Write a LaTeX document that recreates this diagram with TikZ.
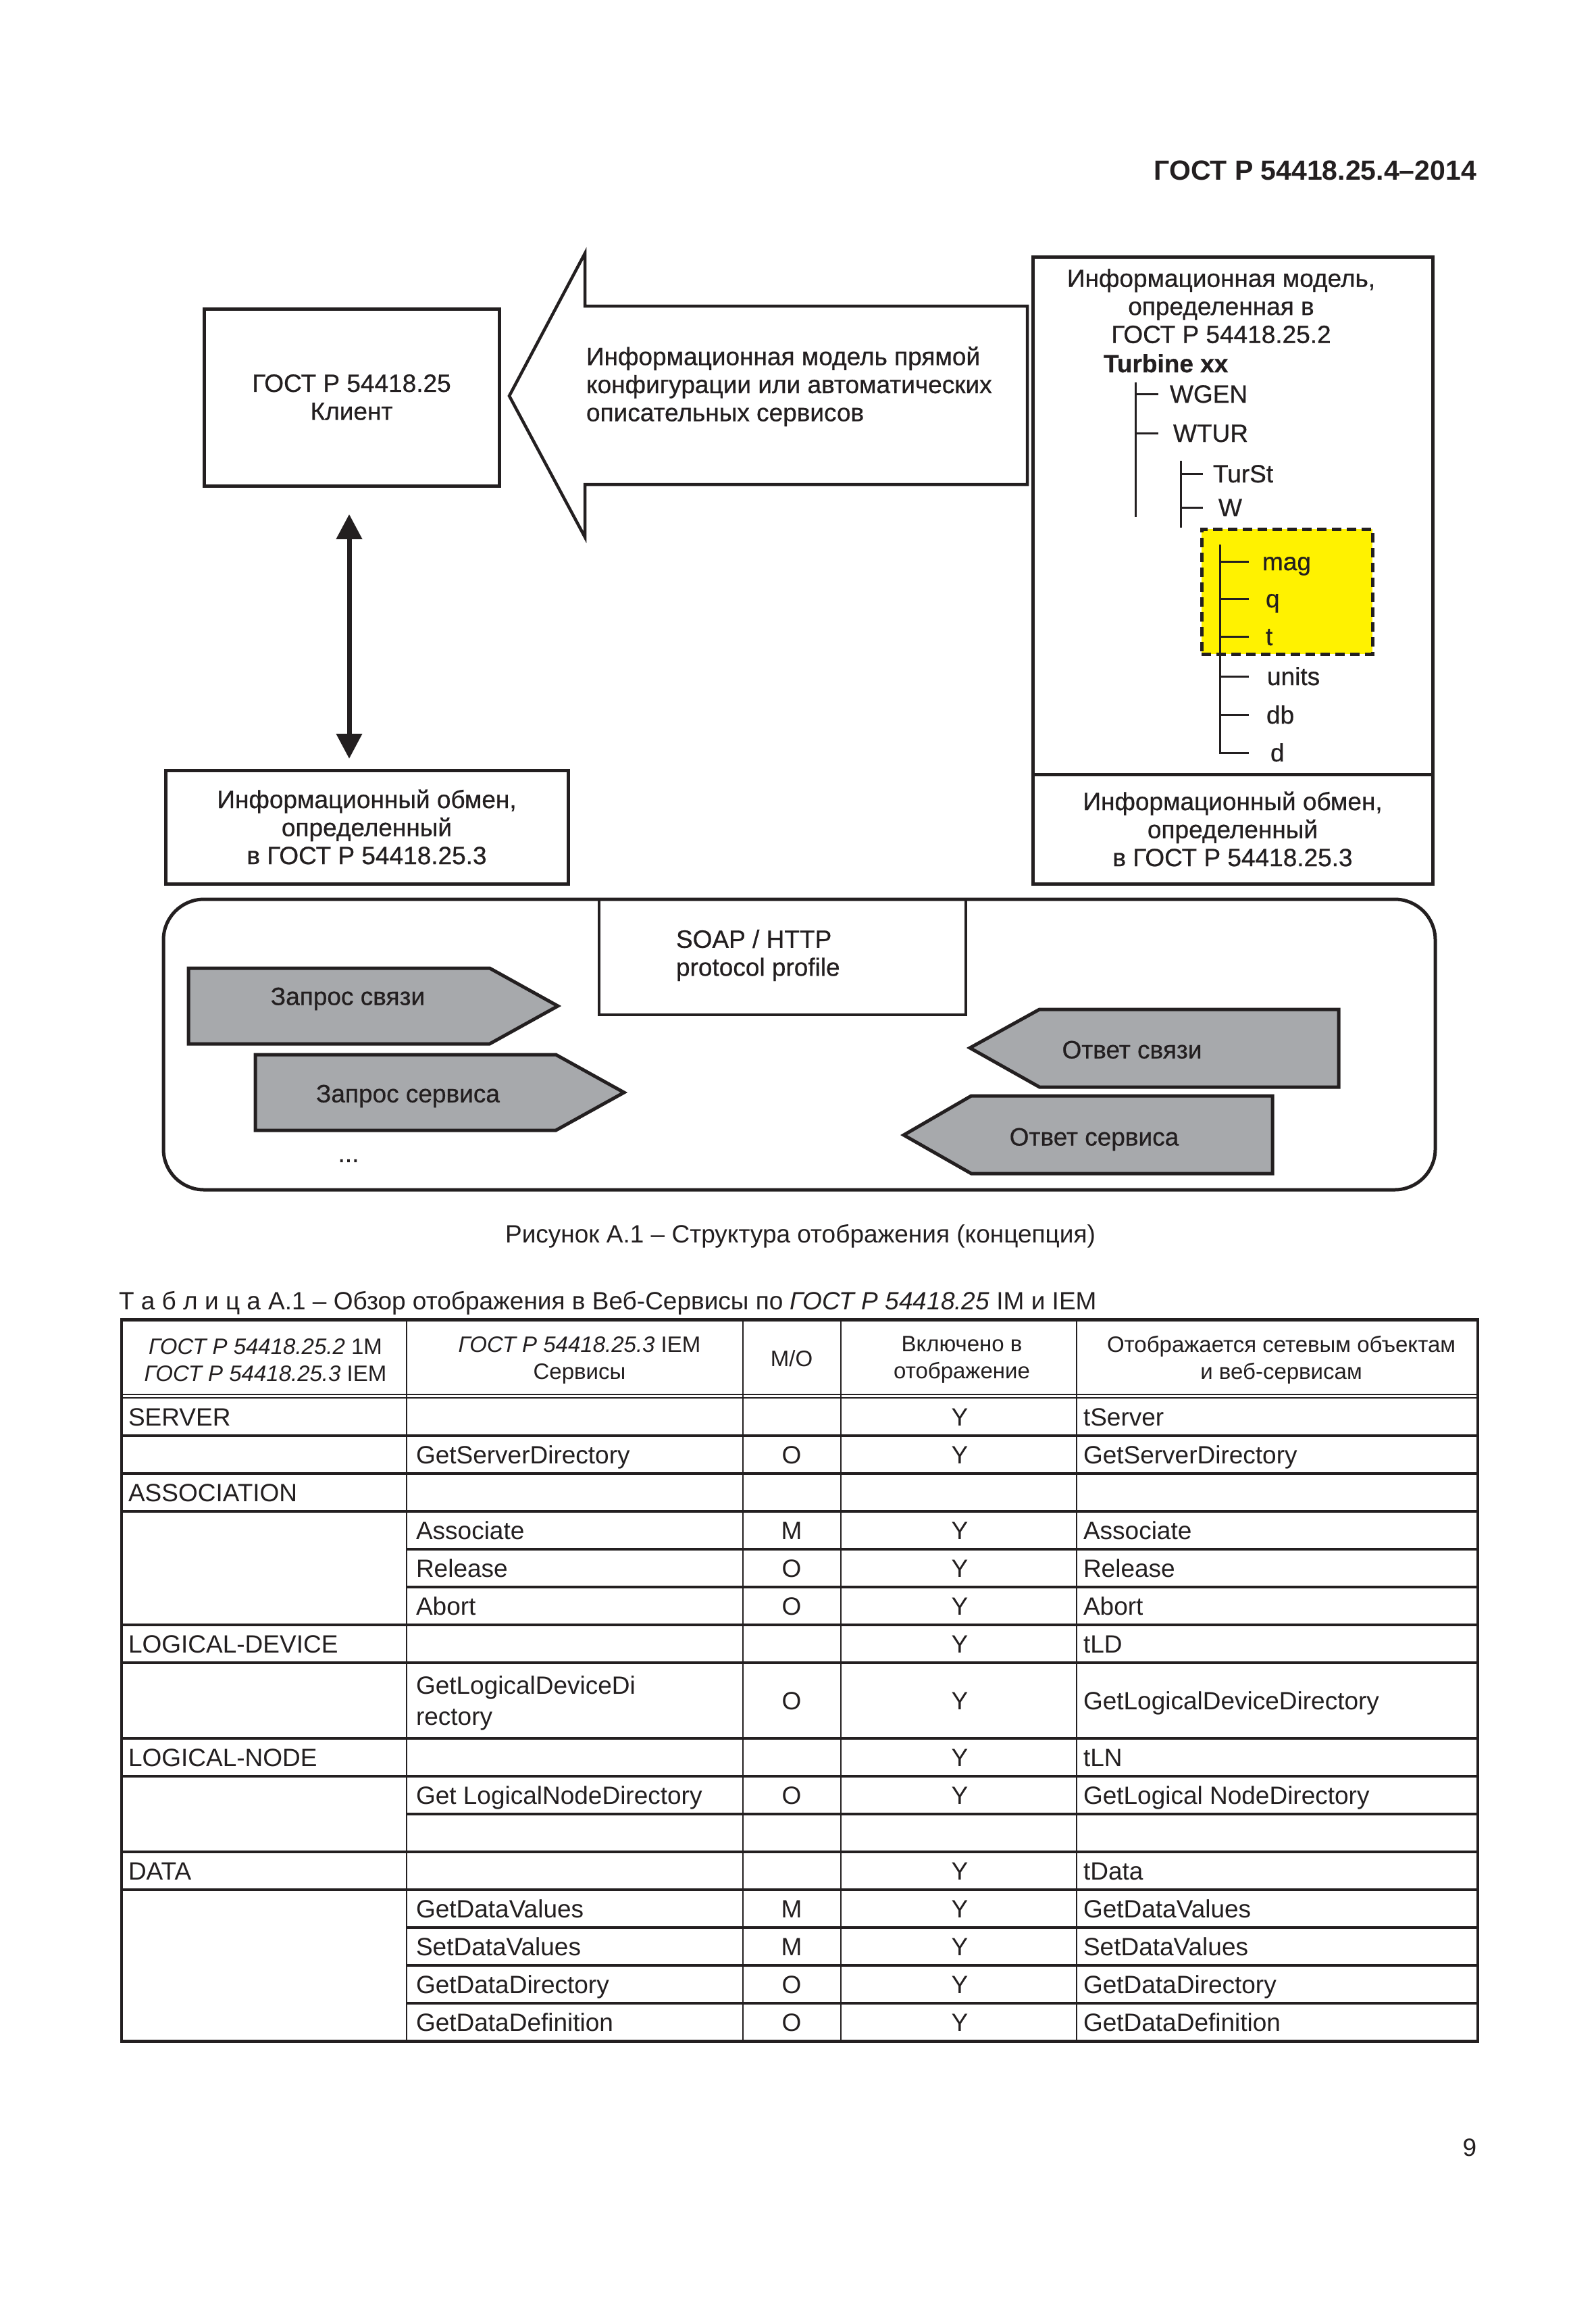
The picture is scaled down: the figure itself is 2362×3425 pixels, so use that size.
\documentclass[tikz,border=0pt]{standalone}
\usepackage{fontspec}
\setmainfont{Liberation Sans}
\newfontfamily\figfam[FakeBold=0.6]{Liberation Sans}
\usetikzlibrary{arrows.meta}
\definecolor{arrgray}{HTML}{A7A9AC}
\definecolor{hlyellow}{HTML}{FFF200}
\definecolor{ink}{HTML}{231F20}
\newcommand{\figf}{\figfam\fontsize{37}{41.5}\selectfont}
\newcommand{\plainf}{\fontsize{37}{41.5}\selectfont}
\newcommand{\tabf}{\fontsize{37}{46}\selectfont}
\newcommand{\headf}{\fontsize{33}{40}\selectfont}
\begin{document}
\begin{tikzpicture}[x=1pt,y=-1pt,
  every node/.style={inner sep=0pt, outer sep=0pt, text=ink},
  frame/.style={draw=ink, line width=5pt},
  ftxt/.style={font=\figf, align=center},
  stxt/.style={font=\figf, text height=27pt, text depth=0pt},
  grayarrow/.style={draw=ink, fill=arrgray, line width=5pt, line join=miter},
  tree/.style={draw=ink, line width=3pt},
  lbl/.style={font=\figf, anchor=west, text height=26pt, text depth=0pt},
  cell/.style={font=\tabf, text height=27pt, text depth=0pt},
  lcell/.style={cell, anchor=west},
  ccell/.style={cell},
  hcell/.style={font=\headf, align=center},
  hline/.style={draw=ink, line width=4pt},
  vline/.style={draw=ink, line width=2.5pt},
  dblarrow/.style={draw=ink, line width=7pt, {Triangle[length=37pt,width=37pt]}-{Triangle[length=37pt,width=37pt]}},
]
\useasboundingbox[fill=white] (0,0) rectangle (2362,3425);

% page header
\node[font=\fontsize{41}{41}\selectfont\bfseries, anchor=base east] (hdr) at (2186,267) {ГОСТ Р 54418.25.4–2014};

% client box
\node[frame, minimum width=437pt, minimum height=262pt, ftxt] (client) at (520.5,588) {ГОСТ Р 54418.25\\Клиент};

% big arrow
\draw[draw=ink, line width=4.5pt, line join=miter] (1521,453) -- (866,453) -- (866,375) -- (754,586) -- (866,795) -- (866,717) -- (1521,717) -- cycle;
\node[font=\figf, align=left, anchor=west] (cfg) at (868,572) {Информационная модель прямой\\конфигурации или автоматических\\описательных сервисов};

% left exchange box
\node[frame, minimum width=596pt, minimum height=168pt, ftxt] (exL) at (543,1224) {Информационный обмен,\\определенный\\в ГОСТ Р 54418.25.3};

% double arrow
\coordinate (ax) at (517,0);
\draw[dblarrow, shorten <=42pt, shorten >=17pt] (client.south -| ax) -- (exL.north -| ax);

% right model box
\node[frame, minimum width=592pt, minimum height=766pt] (model) at (1825,763) {};
\node[frame, minimum width=592pt, minimum height=162pt, ftxt] (exR) at (1825,1227) {Информационный обмен,\\определенный\\в ГОСТ Р 54418.25.3};
\node[ftxt] (imt) at (1808,453) {Информационная модель,\\определенная в\\ГОСТ Р 54418.25.2};

% highlighted region
\node[draw=ink, fill=hlyellow, line width=5pt, dash pattern=on 14pt off 8pt, minimum width=253pt, minimum height=185pt] (hl) at (1905.5,875.5) {};

% tree
\node[lbl, font=\figf\bfseries] (turb) at (1634,538) {Turbine xx};
\node[lbl] (wgen) at (1732,583) {WGEN};
\node[lbl] (wtur) at (1737,641) {WTUR};
\node[lbl] (turst) at (1796,701) {TurSt};
\node[lbl] (w) at (1804,751) {W};
\node[lbl] (mag) at (1869,831) {mag};
\node[lbl] (q) at (1874,886) {q};
\node[lbl] (t) at (1874,942) {t};
\node[lbl] (units) at (1876,1001) {units};
\node[lbl] (db) at (1875,1058) {db};
\node[lbl] (d) at (1881,1114) {d};

\coordinate (t1) at (1681,0); \coordinate (e1) at (1715,0);
\coordinate (t2) at (1748,0); \coordinate (e2) at (1781,0);
\coordinate (t3) at (1806,0); \coordinate (e3) at (1849,0);
\draw[tree] (1681,566) -- (1681,765);
\draw[tree] (1748,682) -- (1748,781);
\draw[tree] (1806,806) -- (1806,1115.5);
\foreach \n in {wgen,wtur} \draw[tree] (\n.west -| t1) -- (\n.west -| e1);
\foreach \n in {turst,w} \draw[tree] (\n.west -| t2) -- (\n.west -| e2);
\foreach \n in {mag,q,t,units,db,d} \draw[tree] (\n.west -| t3) -- (\n.west -| e3);

% web services container
\node[frame, rounded corners=60pt, minimum width=1883pt, minimum height=430pt] (ws) at (1183.5,1546) {};
\node[draw=ink, line width=4pt, minimum width=543pt, minimum height=171pt] (soap) at (1158.5,1416.5) {};
\node[font=\figf, align=left, anchor=west] (soapt) at (1001,1414) {SOAP / HTTP\\protocol profile};

\draw[grayarrow] (279,1433) -- (725,1433) -- (826,1489) -- (725,1545) -- (279,1545) -- cycle;
\node[stxt] (req1) at (515,1474) {Запрос связи};
\draw[grayarrow] (378,1561) -- (823,1561) -- (924,1617) -- (823,1673) -- (378,1673) -- cycle;
\node[stxt] (req2) at (604,1618) {Запрос сервиса};
\draw[grayarrow] (1436,1551) -- (1539,1494) -- (1982,1494) -- (1982,1609) -- (1539,1609) -- cycle;
\node[stxt] (resp1) at (1676,1553) {Ответ связи};
\draw[grayarrow] (1338,1680) -- (1438,1622) -- (1884,1622) -- (1884,1737) -- (1438,1737) -- cycle;
\node[stxt] (resp2) at (1620,1682) {Ответ сервиса};
\node[font=\figf] (dots) at (516,1718) {...};

% caption and table title
\node[font=\plainf, anchor=base] (cap) at (1185,1839) {Рисунок А.1 – Структура отображения (концепция)};
\node[font=\plainf, anchor=base west] (ttl) at (176,1938) {Т а б л и ц а\hspace{0.3em}А.1 – Обзор отображения в Веб-Сервисы по \textit{ГОСТ Р 54418.25} IM и IEM};

% table grid
\draw[draw=ink, line width=5pt] (178,1953) -- (2190,1953);
\draw[draw=ink, line width=2.5pt] (180,2064) -- (2188,2064);
\draw[draw=ink, line width=2.5pt] (180,2069) -- (2188,2069);
\foreach \yy in {2125,2181,2237,2405,2461,2573,2629,2741,2797} \draw[hline] (180,\yy) -- (2188,\yy);
\foreach \yy in {2293,2349,2685,2853,2909,2965} \draw[hline] (602,\yy) -- (2188,\yy);
\draw[draw=ink, line width=5pt] (178,3021) -- (2190,3021);
\foreach \xx in {602,1100,1245,1594} \draw[vline] (\xx,1953) -- (\xx,3021);
\draw[draw=ink, line width=4pt] (180,1953) -- (180,3021);
\draw[draw=ink, line width=4pt] (2188,1953) -- (2188,3021);

% header cells
\node[hcell] (h1) at (393,2013) {\textit{ГОСТ Р 54418.25.2} 1M\\\textit{ГОСТ Р 54418.25.3} IEM};
\node[hcell] (h2) at (858,2013) {\textit{ГОСТ Р 54418.25.3} IEM\\Сервисы};
\node[font=\headf, text height=24pt, text depth=0pt] (h3) at (1172,2010) {M/O};
\node[hcell] (h4) at (1424,2013) {Включено в\\отображение};
\node[hcell] (h5) at (1897,2013) {Отображается сетевым объектам\\и веб-сервисам};

% body cells
\node[lcell] (a0) at (190,2097) {SERVER};
\node[ccell] (d0) at (1421,2097) {Y};
\node[lcell] (e0) at (1604,2097) {tServer};

\node[lcell] (b1) at (616,2153) {GetServerDirectory};
\node[ccell] (c1) at (1172,2153) {O};
\node[ccell] (d1) at (1421,2153) {Y};
\node[lcell] (e1) at (1604,2153) {GetServerDirectory};

\node[lcell] (a2) at (190,2209) {ASSOCIATION};

\node[lcell] (b3) at (616,2265) {Associate};
\node[ccell] (c3) at (1172,2265) {M};
\node[ccell] (d3) at (1421,2265) {Y};
\node[lcell] (e3) at (1604,2265) {Associate};

\node[lcell] (b4) at (616,2321) {Release};
\node[ccell] (c4) at (1172,2321) {O};
\node[ccell] (d4) at (1421,2321) {Y};
\node[lcell] (e4) at (1604,2321) {Release};

\node[lcell] (b5) at (616,2377) {Abort};
\node[ccell] (c5) at (1172,2377) {O};
\node[ccell] (d5) at (1421,2377) {Y};
\node[lcell] (e5) at (1604,2377) {Abort};

\node[lcell] (a6) at (190,2433) {LOGICAL-DEVICE};
\node[ccell] (d6) at (1421,2433) {Y};
\node[lcell] (e6) at (1604,2433) {tLD};

\node[font=\tabf, align=left, anchor=west] (b7) at (616,2521) {GetLogicalDeviceDi\\rectory};
\node[ccell] (c7) at (1172,2517) {O};
\node[ccell] (d7) at (1421,2517) {Y};
\node[lcell] (e7) at (1604,2517) {GetLogicalDeviceDirectory};

\node[lcell] (a9) at (190,2601) {LOGICAL-NODE};
\node[ccell] (d9) at (1421,2601) {Y};
\node[lcell] (e9) at (1604,2601) {tLN};

\node[lcell] (b10) at (616,2657) {Get LogicalNodeDirectory};
\node[ccell] (c10) at (1172,2657) {O};
\node[ccell] (d10) at (1421,2657) {Y};
\node[lcell] (e10) at (1604,2657) {GetLogical NodeDirectory};

\node[lcell] (a12) at (190,2769) {DATA};
\node[ccell] (d12) at (1421,2769) {Y};
\node[lcell] (e12) at (1604,2769) {tData};

\node[lcell] (b13) at (616,2825) {GetDataValues};
\node[ccell] (c13) at (1172,2825) {M};
\node[ccell] (d13) at (1421,2825) {Y};
\node[lcell] (e13) at (1604,2825) {GetDataValues};

\node[lcell] (b14) at (616,2881) {SetDataValues};
\node[ccell] (c14) at (1172,2881) {M};
\node[ccell] (d14) at (1421,2881) {Y};
\node[lcell] (e14) at (1604,2881) {SetDataValues};

\node[lcell] (b15) at (616,2937) {GetDataDirectory};
\node[ccell] (c15) at (1172,2937) {O};
\node[ccell] (d15) at (1421,2937) {Y};
\node[lcell] (e15) at (1604,2937) {GetDataDirectory};

\node[lcell] (b16) at (616,2993) {GetDataDefinition};
\node[ccell] (c16) at (1172,2993) {O};
\node[ccell] (d16) at (1421,2993) {Y};
\node[lcell] (e16) at (1604,2993) {GetDataDefinition};

% page number
\node[font=\plainf, anchor=base] (pg) at (2176,3191) {9};
\end{tikzpicture}
\end{document}
